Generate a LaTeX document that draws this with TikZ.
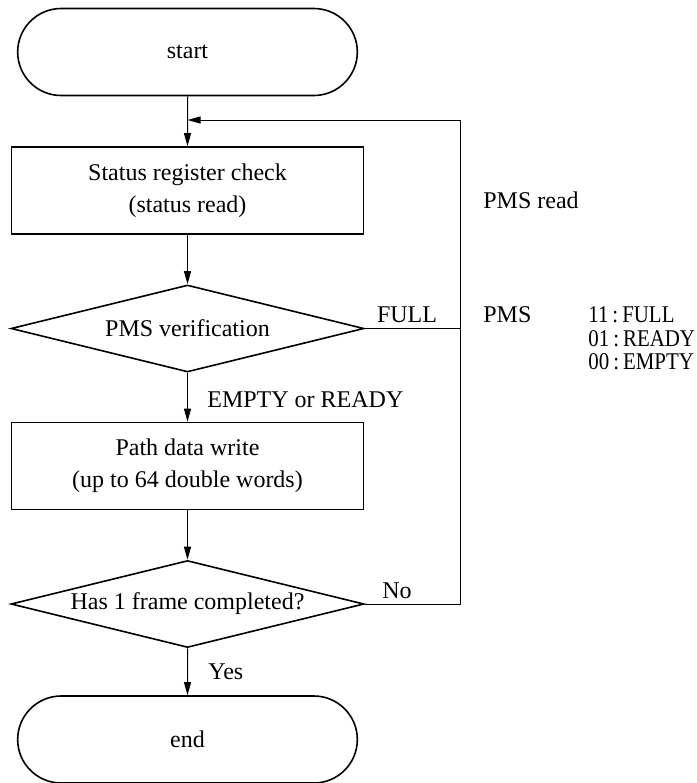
\documentclass[tikz,border=0pt]{standalone}
\usepackage{fontspec}
\setmainfont{Liberation Serif}
\newfontfamily\narrowfont[FakeStretch=0.87]{Liberation Serif}
\usetikzlibrary{arrows.meta,shapes.geometric,shapes.misc}

\begin{document}
\begin{tikzpicture}[x=0.5pt,y=-0.5pt,
  every node/.style={font=\fontsize{12}{16}\selectfont},
  terminal/.style={draw,line width=0.8pt,rounded rectangle,minimum width=176.5pt,minimum height=43.5pt},
  process/.style={draw,line width=0.8pt,rectangle,align=center,minimum width=176pt,minimum height=43.5pt},
  decision/.style={draw,line width=0.8pt,diamond,aspect=4,inner sep=0pt,minimum width=176.5pt,minimum height=43.5pt},
  flow/.style={line width=0.5pt,-{Triangle[length=6.5pt,width=3.5pt]}},
  link/.style={line width=0.5pt},
  note/.style={anchor=west,inner sep=0pt},
  code/.style={note,font=\narrowfont\fontsize{12}{12}\selectfont}]
  \useasboundingbox (0,0) rectangle (697,783);

  \node[terminal] (start) at (187.5,52) {start};
  \node[process] (check) at (187.5,190.5) {Status register check\\(status read)};
  \node[decision] (verify) at (187.5,328.5) {PMS verification};
  \node[process] (write) at (187.5,466) {Path data write\\(up to 64 double words)};
  \node[decision] (frame) at (187.5,604) {Has 1 frame completed?};
  \node[terminal] (end) at (187.5,739.5) {end};

  \coordinate (noturn) at (460,604);
  \coordinate (readturn) at (460,120);
  \coordinate (readin) at (187.5,120);
  \coordinate (fullend) at (460,328.5);

  \draw[flow] (start) -- (check);
  \draw[flow] (check) -- (verify);
  \draw[flow] (verify) -- (write);
  \draw[flow] (write) -- (frame);
  \draw[flow] (frame) -- (end);
  \draw[flow] (frame.east) -- (noturn) -- (readturn) -- (readin);
  \draw[link] (verify.east) -- (fullend);

  % labels on the branches
  \node[inner sep=0pt] (fulltxt) at (407,315) {FULL};
  \node[note] (emptytxt) at (207,400) {EMPTY or READY};
  \node[note] (notxt) at (382,591) {No};
  \node[note] (yestxt) at (208,672) {Yes};

  % PMS status table
  \node[note] (readtxt) at (483,200) {PMS read};
  \node[note] (pmstxt) at (483,315) {PMS};
  \node[code] (full) at (588,315) {11\,:\,FULL};
  \node[code] (ready) at (588,338.5) {01\,:\,READY};
  \node[code] (empty) at (588,362) {00\,:\,EMPTY};
\end{tikzpicture}
\end{document}
